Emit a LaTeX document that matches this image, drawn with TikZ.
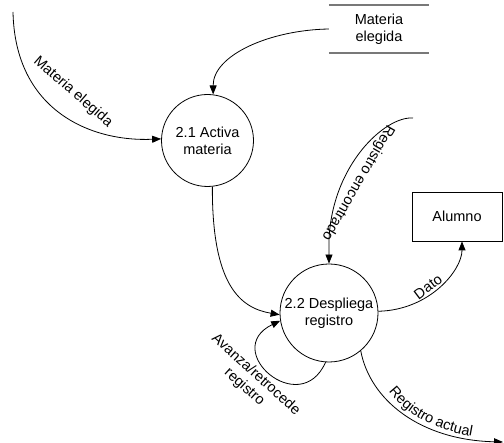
\documentclass[tikz,border=0pt]{standalone}
\usepackage{fontspec}
\setmainfont{Liberation Sans}
\usetikzlibrary{arrows.meta,decorations.text}
\definecolor{storegray}{RGB}{120,120,120}
\newcommand\lblfont{\fontsize{14.5}{17}\selectfont}
\begin{document}
\begin{tikzpicture}[x=1pt,y=-1pt,
  every node/.style={font=\lblfont},
  process/.style={draw, circle, line width=0.8pt, inner sep=0pt, align=center},
  entity/.style={draw, rectangle, line width=0.8pt, minimum width=90pt, minimum height=49pt},
  datastore/.style={minimum width=100pt, minimum height=48pt, align=center, inner sep=0pt},
  storeline/.style={line width=1.5pt, draw=storegray},
  flow/.style={line width=0.8pt, -{Triangle[length=9pt,width=7pt]}},
  flowlabel/.style={align=center, inner sep=1pt},
]
\useasboundingbox (0,0) rectangle (504,443);

% processes, entity and data store
\node[process, minimum size=92pt] (act) at (207.5,140.5) {2.1 Activa\\materia};
\node[process, minimum size=98pt] (desp) at (329,313) {2.2 Despliega\\registro};
\node[entity] (alumno) at (457,216.5) {Alumno};
\node[datastore] (mat) at (379,29) {Materia\\elegida};
\draw[storeline] (mat.north west) -- (mat.north east);
\draw[storeline] (mat.south west) -- (mat.south east);

% free ends of flows
\coordinate (src) at (13,12);
\coordinate (srcreg) at (413,118);
\coordinate (sink) at (503,442);

% data flows
\draw[flow] (src) .. controls (15,110) and (90,142) .. (act.178);
\draw[flow] (mat.west) .. controls (270,30) and (213,55) .. (act.83);
\draw[flow] (act.-84) .. controls (212,285) and (240,308) .. (desp.182);
\draw[flow] (srcreg) .. controls (385,116) and (332,165) .. (329,240) -- (desp.north);
\draw[flow] (desp.-94) .. controls (300,420) and (220,350) .. (desp.189);
\draw[flow] (desp.2) .. controls (430,310) and (462,270) .. ([xshift=5pt]alumno.south);
\draw[flow] (desp.-50) .. controls (370,400) and (420,440) .. (sink);

% flow labels
\node[flowlabel, rotate=-41] (lblmat) at (73,92) {Materia elegida};
\node[flowlabel, rotate=-120] (lblenc) at (358,183) {Registro encontrado};
\node[flowlabel, rotate=37] (lbldato) at (428,287) {Dato};
\node[flowlabel, rotate=-42] (lblav) at (250,381) {Avanza/retrocede\\registro};
\path[decorate, decoration={text along path, text={|\lblfont|Registro actual}, text align=center}]
  (383,383) .. controls (400,412) and (435,432) .. (482,438);
\end{tikzpicture}
\end{document}
